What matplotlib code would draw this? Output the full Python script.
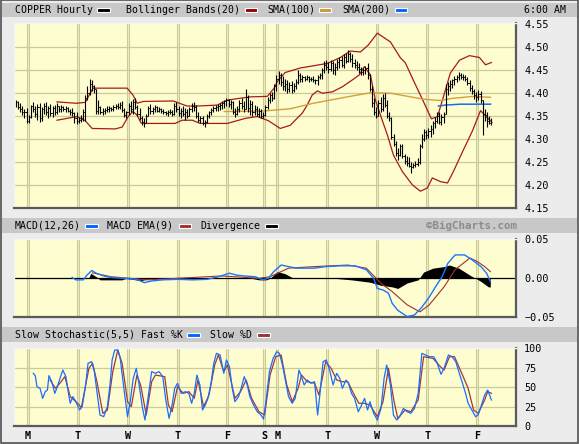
import numpy as np
import matplotlib
matplotlib.use("Agg")
import matplotlib.pyplot as plt
from matplotlib.patches import Rectangle

plt.rcParams['font.family'] = ['DejaVu Sans Mono']

# ---- price bars (hourly, bar index 0..219) ----
high = [
    4.386, 4.384, 4.378, 4.372, 4.366, 4.368, 4.352, 4.375, 4.380, 4.372,
    4.376, 4.378, 4.370, 4.378, 4.380, 4.372, 4.376, 4.372, 4.375, 4.378,
    4.372, 4.374, 4.372, 4.372, 4.370, 4.366, 4.368, 4.360, 4.360, 4.348,
    4.352, 4.365, 4.395, 4.415, 4.430, 4.428, 4.418, 4.410, 4.385, 4.372,
    4.368, 4.368, 4.372, 4.372, 4.370, 4.374, 4.376, 4.378, 4.380, 4.382,
    4.368, 4.362, 4.378, 4.384, 4.388, 4.390, 4.375, 4.368, 4.350, 4.345,
    4.355, 4.372, 4.376, 4.370, 4.374, 4.372, 4.370, 4.368, 4.366, 4.362,
    4.364, 4.366, 4.364, 4.378, 4.380, 4.372, 4.368, 4.372, 4.368, 4.366,
    4.370, 4.378, 4.380, 4.375, 4.360, 4.350, 4.350, 4.342, 4.355, 4.362,
    4.368, 4.372, 4.374, 4.376, 4.378, 4.382, 4.386, 4.390, 4.388, 4.385,
    4.382, 4.368, 4.372, 4.385, 4.390, 4.384, 4.410, 4.395, 4.385, 4.382,
    4.375, 4.372, 4.368, 4.366, 4.360, 4.375, 4.392, 4.400, 4.402, 4.420,
    4.440, 4.448, 4.445, 4.438, 4.430, 4.428, 4.425, 4.426, 4.422, 4.430,
    4.450, 4.445, 4.440, 4.438, 4.440, 4.438, 4.436, 4.438, 4.432, 4.440,
    4.445, 4.455, 4.470, 4.472, 4.468, 4.472, 4.470, 4.466, 4.475, 4.478,
    4.482, 4.485, 4.488, 4.494, 4.490, 4.485, 4.475, 4.470, 4.465, 4.458,
    4.455, 4.460, 4.465, 4.442, 4.415, 4.390, 4.370, 4.385, 4.392, 4.398,
    4.400, 4.385, 4.360, 4.348, 4.310, 4.295, 4.280, 4.290, 4.288, 4.268,
    4.262, 4.260, 4.250, 4.248, 4.252, 4.258, 4.290, 4.310, 4.322, 4.320,
    4.325, 4.330, 4.340, 4.348, 4.358, 4.360, 4.355, 4.360, 4.420, 4.425,
    4.428, 4.432, 4.438, 4.440, 4.447, 4.445, 4.442, 4.440, 4.436, 4.428,
    4.418, 4.410, 4.402, 4.408, 4.404, 4.385, 4.365, 4.358, 4.350, 4.345]
low = [
    4.370, 4.365, 4.360, 4.352, 4.345, 4.335, 4.335, 4.345, 4.360, 4.348,
    4.342, 4.338, 4.340, 4.355, 4.352, 4.345, 4.350, 4.348, 4.352, 4.355,
    4.358, 4.360, 4.362, 4.360, 4.358, 4.352, 4.350, 4.335, 4.332, 4.335,
    4.338, 4.340, 4.340, 4.385, 4.395, 4.405, 4.400, 4.355, 4.355, 4.355,
    4.352, 4.355, 4.358, 4.360, 4.362, 4.362, 4.365, 4.365, 4.366, 4.360,
    4.348, 4.345, 4.352, 4.360, 4.355, 4.365, 4.350, 4.342, 4.330, 4.327,
    4.335, 4.350, 4.355, 4.355, 4.358, 4.358, 4.360, 4.356, 4.354, 4.352,
    4.350, 4.354, 4.350, 4.352, 4.358, 4.350, 4.345, 4.350, 4.342, 4.345,
    4.350, 4.360, 4.362, 4.345, 4.338, 4.335, 4.330, 4.326, 4.335, 4.345,
    4.352, 4.358, 4.362, 4.362, 4.364, 4.366, 4.368, 4.372, 4.370, 4.365,
    4.355, 4.349, 4.352, 4.360, 4.365, 4.360, 4.365, 4.360, 4.352, 4.350,
    4.352, 4.350, 4.348, 4.346, 4.345, 4.350, 4.365, 4.378, 4.382, 4.388,
    4.405, 4.420, 4.415, 4.408, 4.405, 4.400, 4.402, 4.400, 4.402, 4.410,
    4.420, 4.425, 4.425, 4.426, 4.428, 4.425, 4.426, 4.425, 4.420, 4.418,
    4.430, 4.432, 4.445, 4.450, 4.445, 4.448, 4.442, 4.440, 4.450, 4.455,
    4.458, 4.455, 4.465, 4.468, 4.468, 4.458, 4.455, 4.450, 4.445, 4.440,
    4.440, 4.442, 4.430, 4.405, 4.370, 4.352, 4.345, 4.350, 4.360, 4.362,
    4.370, 4.345, 4.340, 4.300, 4.285, 4.262, 4.255, 4.262, 4.258, 4.245,
    4.240, 4.238, 4.226, 4.236, 4.238, 4.240, 4.245, 4.280, 4.295, 4.300,
    4.302, 4.305, 4.310, 4.325, 4.335, 4.332, 4.330, 4.335, 4.355, 4.395,
    4.405, 4.412, 4.418, 4.425, 4.428, 4.430, 4.428, 4.426, 4.418, 4.405,
    4.398, 4.388, 4.380, 4.385, 4.378, 4.309, 4.340, 4.326, 4.332, 4.330]
close = [
    4.380, 4.370, 4.365, 4.358, 4.360, 4.340, 4.348, 4.372, 4.365, 4.355,
    4.370, 4.345, 4.365, 4.372, 4.358, 4.368, 4.356, 4.368, 4.360, 4.372,
    4.366, 4.370, 4.366, 4.368, 4.362, 4.360, 4.356, 4.345, 4.340, 4.342,
    4.345, 4.360, 4.390, 4.400, 4.420, 4.415, 4.410, 4.362, 4.370, 4.360,
    4.362, 4.364, 4.366, 4.368, 4.366, 4.370, 4.372, 4.370, 4.375, 4.364,
    4.352, 4.358, 4.372, 4.365, 4.380, 4.370, 4.355, 4.345, 4.338, 4.335,
    4.350, 4.368, 4.362, 4.366, 4.370, 4.362, 4.366, 4.362, 4.358, 4.356,
    4.360, 4.358, 4.354, 4.372, 4.365, 4.356, 4.362, 4.355, 4.360, 4.350,
    4.366, 4.372, 4.370, 4.350, 4.342, 4.345, 4.336, 4.338, 4.350, 4.358,
    4.364, 4.368, 4.370, 4.372, 4.374, 4.378, 4.382, 4.385, 4.376, 4.380,
    4.360, 4.354, 4.366, 4.378, 4.372, 4.366, 4.392, 4.368, 4.376, 4.358,
    4.366, 4.355, 4.362, 4.350, 4.352, 4.370, 4.385, 4.395, 4.390, 4.415,
    4.430, 4.440, 4.425, 4.415, 4.420, 4.410, 4.418, 4.408, 4.415, 4.425,
    4.440, 4.432, 4.435, 4.432, 4.436, 4.430, 4.432, 4.428, 4.428, 4.436,
    4.440, 4.450, 4.462, 4.458, 4.452, 4.465, 4.450, 4.458, 4.468, 4.472,
    4.462, 4.478, 4.470, 4.485, 4.475, 4.465, 4.462, 4.458, 4.452, 4.446,
    4.450, 4.455, 4.440, 4.410, 4.378, 4.358, 4.350, 4.378, 4.365, 4.390,
    4.375, 4.350, 4.345, 4.305, 4.290, 4.270, 4.265, 4.285, 4.262, 4.252,
    4.248, 4.242, 4.238, 4.244, 4.246, 4.250, 4.285, 4.300, 4.315, 4.308,
    4.318, 4.322, 4.335, 4.340, 4.350, 4.338, 4.348, 4.355, 4.410, 4.415,
    4.420, 4.428, 4.430, 4.436, 4.440, 4.435, 4.436, 4.432, 4.422, 4.412,
    4.405, 4.395, 4.392, 4.398, 4.385, 4.355, 4.352, 4.340, 4.336, 4.338]

# Bollinger bands, SMAs (bar index, value)
bb_up_x = [19, 28, 32, 35.6, 51.3, 54, 55.9, 58.7, 72.5, 78.9, 83.5, 92.8, 97.4,
           108, 115.8, 119, 120.4, 124, 131, 143.5, 149.5, 154, 158.7, 162.3,
           166.5, 172.5, 177, 179.4, 183.5, 187.2, 191.4, 194.2, 197.4, 200.1,
           204.3, 208.9, 213.5, 216.3, 219]
bb_up = [4.381, 4.378, 4.380, 4.411, 4.411, 4.396, 4.378, 4.382, 4.383, 4.372,
         4.372, 4.374, 4.385, 4.392, 4.393, 4.411, 4.425, 4.445, 4.455, 4.465,
         4.478, 4.492, 4.490, 4.505, 4.531, 4.512, 4.478, 4.466, 4.424, 4.387,
         4.344, 4.349, 4.400, 4.444, 4.472, 4.482, 4.478, 4.462, 4.467]
bb_lo_x = [19, 28.2, 32, 35.2, 45.8, 49, 51.8, 54, 55.9, 57.7, 59.6, 73.4, 76.6,
           81.3, 84.9, 90.5, 97.4, 105.7, 111.2, 116.3, 121.8, 126.4, 132, 134.2,
           136.5, 138.9, 141.2, 145.8, 150.4, 155, 158.2, 160.5, 163.3, 165.6,
           168.8, 171.1, 173.9, 178, 182.6, 186.3, 189.5, 191.8, 195.5, 198.8,
           201.5, 205.7, 210.3, 214, 217.2, 219]
bb_lo = [4.341, 4.349, 4.340, 4.323, 4.322, 4.326, 4.349, 4.360, 4.352, 4.335,
         4.334, 4.334, 4.341, 4.341, 4.334, 4.334, 4.334, 4.345, 4.349, 4.340,
         4.323, 4.330, 4.357, 4.374, 4.396, 4.405, 4.400, 4.403, 4.414, 4.429,
         4.440, 4.458, 4.440, 4.385, 4.340, 4.309, 4.265, 4.229, 4.200, 4.186,
         4.193, 4.215, 4.207, 4.204, 4.229, 4.272, 4.318, 4.362, 4.346, 4.338]
sma100_x = [96, 114, 126.4, 137, 152.7, 163.3, 172.5, 187.7, 195.5, 201.5, 210.7, 218.6]
sma100 = [4.360, 4.361, 4.366, 4.378, 4.392, 4.401, 4.400, 4.387, 4.384, 4.389, 4.393, 4.391]
sma200_x = [194.6, 197.8, 204.7, 218.6]
sma200 = [4.372, 4.374, 4.376, 4.376]

# MACD panel
macd_x = [26, 27.7, 31.1, 32.8, 35, 37.1, 40.5, 43.9, 50.7, 55.8, 59.2, 62.6, 67.7,
          74.5, 81.4, 88.2, 93.3, 98.4, 101.8, 105.2, 110.3, 113.7, 116.3, 118.8,
          122.2, 125.6, 129.1, 137.6, 142.7, 149.5, 156.3, 161.4, 164.8, 166.5,
          169.1, 171.6, 173.3, 175.9, 180.2, 183.6, 187, 190.4, 193.8, 196.3,
          198.9, 202.3, 206.6, 210, 214.2, 216.8, 218.5]
macd = [0.001, -0.002, -0.002, 0.004, 0.010, 0.0065, 0.003, 0.001, -0.0004, -0.0013,
        -0.0056, -0.0034, -0.002, -0.0013, -0.002, -0.0013, 0.002, 0.0065, 0.004,
        0.003, 0.002, -0.002, 0.000, 0.0086, 0.017, 0.015, 0.013, 0.013, 0.015,
        0.016, 0.016, 0.011, 0.000, -0.013, -0.015, -0.019, -0.032, -0.041, -0.049,
        -0.047, -0.037, -0.024, -0.0086, 0.002, 0.019, 0.030, 0.030, 0.024, 0.015,
        0.0065, -0.004]
sig_x = [35.4, 43.9, 60.9, 95, 112, 117.1, 125.6, 137.6, 152.9, 161.4, 168.2, 173.3,
         180.2, 186.1, 190.4, 197.2, 202.3, 209.1, 212.5, 215.9, 218.5]
signal = [0.007, 0.002, -0.002, 0.003, 0.000, 0.002, 0.013, 0.015, 0.017, 0.013,
          -0.0065, -0.017, -0.034, -0.043, -0.034, -0.011, 0.011, 0.026, 0.0215,
          0.015, 0.0086]
div_x = [26, 33.6, 34.5, 37.1, 38.8, 49, 50.7, 57.5, 60.9, 66, 69.4, 72.9, 81.4,
         93.3, 98.4, 108.6, 112, 115.4, 117.1, 120.5, 123.9, 127.3, 142.7, 154.6,
         163.1, 168.2, 173.3, 175.9, 180.2, 185.3, 187.8, 192.1, 197.2, 199.7, 204,
         209.1, 211.7, 214.2, 217.6, 218.5]
divergence = [0, 0, 0.0065, 0.002, -0.002, -0.002, 0, -0.003, -0.001, 0.001, 0.001,
              0, -0.001, 0.001, 0.001, 0, -0.002, -0.002, 0, 0.0086, 0.006, 0.001,
              0.001, -0.002, -0.005, -0.009, -0.011, -0.013, -0.006, -0.002, 0.008,
              0.013, 0.015, 0.017, 0.013, 0.004, 0, -0.004, -0.011, -0.011]

# Slow stochastic panel
fastk_x = [8.1, 9, 9.8, 11.2, 12.4, 13.6, 14.6, 15.3, 16.6, 18, 19.2, 20.4, 21.7,
           23.1, 24.3, 25.1, 26.3, 27.7, 29.4, 30.6, 32, 33.3, 35, 36.2, 37.4, 38.8,
           40.5, 42.2, 43.4, 44.4, 45.6, 47, 48.1, 49.8, 51.5, 52.7, 54.1, 55.5,
           56.6, 58.4, 59.5, 60.9, 62.6, 64.3, 66, 67.7, 69.1, 70.6, 72, 73.2, 74.5,
           76.2, 78, 79.7, 81, 82.2, 83.4, 84.8, 86, 87.3, 88.5, 89.9, 91.2, 92.4,
           94.1, 95.8, 97, 98.4, 99.7, 100.9, 102.6, 103.8, 105.2, 106.6, 107.8,
           109.5, 111.2, 112.9, 114.1, 115.4, 116.8, 118.5, 120.2, 121.4, 122.8,
           124.3, 125.6, 127.3, 128.7, 130.4, 131.6, 132.8, 134.2, 135.9, 137.6,
           139, 140.1, 141.5, 143, 144.7, 146.1, 147.8, 149.2, 150.4, 152.1, 153.2,
           154.6, 156, 157.7, 158.9, 160.6, 162, 163.1, 164.8, 166.5, 168.2, 169.6,
           170.8, 172.5, 173.9, 175.4, 176.8, 178.5, 180.2, 181.9, 183.6, 185.3,
           187, 188.7, 190.4, 192.4, 193.8, 195.8, 197.2, 199.2, 200.9, 202.6, 204,
           205.7, 207.1, 208.3, 210, 211.7, 212.9, 214.2, 215.9, 217.3, 219]
fastk = [67.8, 64.8, 50.6, 48.5, 35.6, 44.2, 46.3, 64.8, 57, 42, 50.6, 61.3, 72,
         63.5, 42, 29.2, 37.8, 31.3, 20.6, 24.9, 48.5, 80.7, 82.8, 70, 44.2, 14.2,
         12, 24.9, 52.8, 85, 97.8, 97.8, 87, 48.5, 12, 31.3, 61.3, 74.2, 57, 22.7,
         7.7, 35.6, 70, 67.8, 70, 63.5, 33.5, 9.9, 27, 48.5, 55, 42, 44.2, 42, 29.2,
         42, 65.6, 52.8, 20.6, 27, 35.6, 55, 80.7, 93.5, 91.4, 67.8, 85, 76.4,
         48.5, 31.3, 37.8, 48.5, 63.5, 52.8, 37.8, 27, 18.4, 14.2, 9, 35.6, 70, 87,
         95.7, 93.5, 78.5, 57, 37.8, 29.2, 35.6, 72, 63.5, 52.8, 59.2, 55, 57, 14.2,
         42, 82.8, 85, 70, 52.8, 67.8, 61.3, 48.5, 59.2, 55, 42, 35.6, 18.4, 24.9,
         35.6, 20.6, 31.3, 16.3, 7.7, 22.7, 61.3, 78.5, 52.8, 14.2, 7.7, 12, 22.7,
         18.4, 16.3, 22.7, 42, 93.5, 91.4, 89.2, 89.2, 82.8, 66.5, 74.2, 91.4, 89.2,
         82.8, 70, 55, 42, 29.2, 20.6, 12, 14.2, 24.9, 39.9, 46.3, 33.5]
slowd_x = [15.8, 18.3, 20.9, 22.6, 25.1, 28.5, 30.2, 33.7, 35.4, 37.4, 40.1, 42.2,
           44.7, 47, 49, 51.5, 53.2, 55.8, 57.5, 60.1, 62.6, 64.3, 68.6, 70.3, 72,
           74.5, 77.1, 79.7, 82.2, 83.9, 86.5, 89, 91.6, 93.3, 95.8, 97.5, 100.9,
           103.5, 106.1, 108.6, 112, 114.6, 117.1, 119.7, 122.2, 124.8, 127.3, 130,
           131.6, 134.2, 137.6, 139.6, 142.7, 145.2, 147.8, 150.4, 152.9, 155.5,
           158, 160.6, 163.1, 166.5, 169.1, 171.6, 174.2, 175.9, 179.3, 181.9,
           185.3, 187.8, 192.1, 195.5, 197.2, 199.7, 202, 205.7, 208.3, 210.8,
           212.9, 215.9, 217.3, 219]
slowd = [59.2, 48.5, 57, 63.5, 37.8, 29.2, 23.6, 74.2, 80.7, 57, 16.3, 20.6, 70,
         97.8, 80.7, 31.3, 24.9, 65.6, 52.8, 14.2, 57, 65.6, 63.5, 27, 18.4, 50.6,
         42, 44.2, 35.6, 59.2, 24.9, 39.9, 78.5, 91.4, 70, 78.5, 35.6, 44.2, 59.2,
         35.6, 18.4, 14.2, 65.6, 89.2, 91.4, 52.8, 31.3, 48.5, 65.6, 57, 55, 39.9,
         82.8, 74.2, 59.2, 57, 57, 42, 29.2, 29.2, 27, 12, 31.3, 74.2, 31.3, 9.9,
         20.6, 18.4, 33.5, 89.2, 87, 76.4, 72, 89.2, 89.2, 65.6, 48.5, 20.6, 16.3,
         33.5, 44.2, 42]

# calendar
day_idx = [5.5, 28.5, 51.5, 74.5, 97.5, 114.5, 120.5, 143.5, 166.5, 189.5, 212.5]
day_lbl = ['M', 'T', 'W', 'T', 'F', 'S', 'M', 'T', 'W', 'T', 'F']

W, H = 579, 444
BG = '#ececec'
BAND = '#c8c8c8'
PLOT_BG = '#fdfdd0'
GRID = '#cbcb95'
GRID_IN = '#ececc0'


def box(x0, y0, x1, y1):
    return [x0 / W, 1 - y1 / H, (x1 - x0) / W, (y1 - y0) / H]


fig = plt.figure(figsize=(W / 100, H / 100), dpi=100, facecolor=BG)

# pixel-space background layer for header bars, legends and frame
bg = fig.add_axes([0, 0, 1, 1], zorder=0)
bg.set_xlim(0, W)
bg.set_ylim(H, 0)
bg.axis('off')
for y0, y1 in [(3, 17), (218, 233), (327, 342)]:
    bg.add_patch(Rectangle((1.5, y0), 575.5, y1 - y0, facecolor=BAND, edgecolor='none'))
bg.add_patch(Rectangle((0.8, 0.3), 577.4, 443, facecolor='none', edgecolor='#505050', lw=1.2))


def legend_item(x, y, text, sw_x, color):
    bg.text(x, y, text, fontsize=7.1, va='center', ha='left', color='black')
    if color is not None:
        bg.add_patch(Rectangle((sw_x, y - 2), 12.5, 4, facecolor=color,
                               edgecolor='white', lw=0.8))


legend_item(14.8, 9.8, 'COPPER Hourly', 97, 'black')
legend_item(125.7, 9.8, 'Bollinger Bands(20)', 244.7, '#990000')
legend_item(267, 9.8, 'SMA(100)', 318.7, '#cc9933')
legend_item(342, 9.8, 'SMA(200)', 394.5, '#0066ff')
bg.text(565.6, 9.8, '6:00 AM', fontsize=7.1, va='center', ha='right')

legend_item(14.8, 225.5, 'MACD(12,26)', 85, '#0066ff')
legend_item(107, 225.5, 'MACD EMA(9)', 178.6, '#a03030')
legend_item(200.7, 225.5, 'Divergence', 265, 'black')
bg.text(516.5, 225.5, '\u00a9BigCharts.com', fontsize=7.8, fontweight='bold',
        va='center', ha='right', color='#8c8c8c')

legend_item(14.8, 334.8, 'Slow Stochastic(5,5) Fast %K', 187.4, '#0066ff')
legend_item(210, 334.8, 'Slow %D', 257, '#993333')


def panel(rect, ylim, ticks, labels, hgrid):
    ax = fig.add_axes(box(*rect), zorder=2)
    ax.set_facecolor(PLOT_BG)
    ax.set_xlim(-0.65, 230.1)
    ax.set_ylim(*ylim)
    for d in day_idx:
        ax.axvline(d, color=GRID, lw=2.2, zorder=0)
        ax.axvline(d, color=GRID_IN, lw=0.7, zorder=0)
    for g in hgrid:
        ax.axhline(g, color=GRID, lw=0.9, zorder=0)
    ax.yaxis.tick_right()
    ax.set_yticks(ticks)
    ax.set_yticklabels(labels, fontsize=7.3)
    ax.tick_params(axis='y', length=0, pad=6.2)
    ax.set_xticks([])
    for s in ['top', 'left']:
        ax.spines[s].set_color('#f4f4f4')
        ax.spines[s].set_linewidth(1.0)
    for s in ['bottom', 'right']:
        ax.spines[s].set_color('#5a5a5a')
        ax.spines[s].set_linewidth(1.6)
    return ax


# ---- price panel ----
ax1 = panel((14.3, 23.3, 515.5, 207.7), (4.15, 4.5526),
            [4.55, 4.50, 4.45, 4.40, 4.35, 4.30, 4.25, 4.20, 4.15],
            ['4.55', '4.50', '4.45', '4.40', '4.35', '4.30', '4.25', '4.20', '4.15'],
            [4.20, 4.25, 4.30, 4.35, 4.40, 4.45, 4.50])
x = np.arange(len(close))
ax1.plot(bb_up_x, bb_up, color='#a81a1a', lw=0.9, zorder=2)
ax1.plot(bb_lo_x, bb_lo, color='#a81a1a', lw=0.9, zorder=2)
ax1.plot(sma100_x, sma100, color='#d4a03a', lw=1.0, zorder=2)
ax1.plot(sma200_x, sma200, color='#1a6cf0', lw=1.1, zorder=2)
ax1.vlines(x, low, high, color='black', lw=0.8, zorder=3)
ax1.hlines(close, x, x + 0.5, color='black', lw=0.7, zorder=3)
ax1.hlines(close[:-1], x[1:] - 0.5, x[1:], color='black', lw=0.7, zorder=3)

# ---- MACD panel ----
ax2 = panel((14.3, 239.3, 515.5, 317.3), (-0.05, 0.05),
            [0.05, 0.0, -0.05], ['0.05', '0.00', '\u22120.05'], [])
ax2.axhline(0, color='black', lw=0.9, zorder=1)
ax2.fill_between(div_x, divergence, 0, color='black', lw=0, zorder=2)
ax2.plot(sig_x, signal, color='#a03030', lw=0.8, zorder=3)
ax2.plot(macd_x, macd, color='#1a75ff', lw=1.0, zorder=4)

# ---- stochastic panel ----
ax3 = panel((14.3, 348.3, 515.5, 426.0), (0, 100),
            [100, 75, 50, 25, 0], ['100', '75', '50', '25', '0'], [25, 50, 75])
ax3.plot(slowd_x, slowd, color='#a03838', lw=0.9, zorder=2)
ax3.plot(fastk_x, fastk, color='#1a6dff', lw=0.9, zorder=3)
ax3.set_xticks(day_idx)
ax3.set_xticklabels(day_lbl, fontsize=7.3, fontweight='bold')
ax3.tick_params(axis='x', length=0, pad=3.6)

fig.savefig('out.png', dpi=100, facecolor=BG)
